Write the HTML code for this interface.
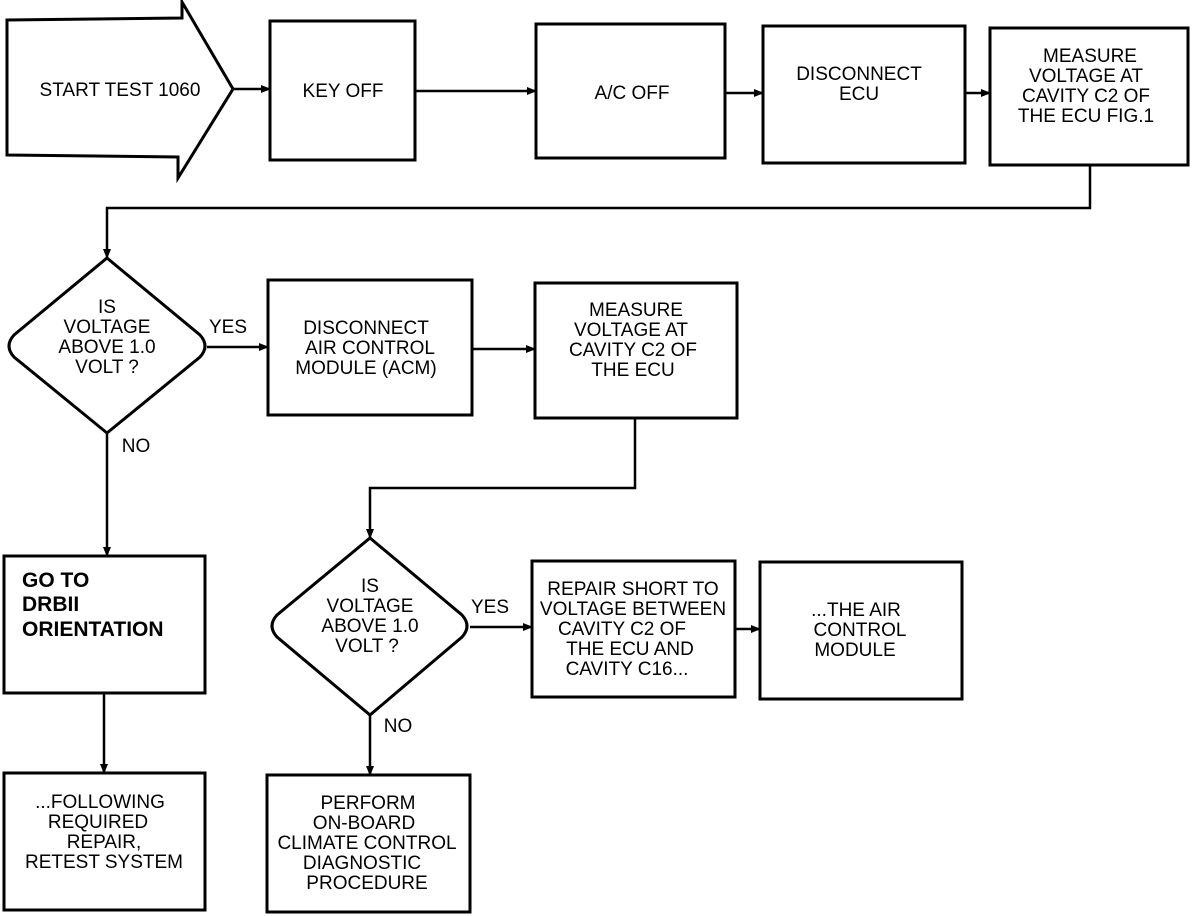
<!DOCTYPE html>
<html><head><meta charset="utf-8"><style>
html,body{margin:0;padding:0;background:#fff;}
svg{display:block;}
text{font-family:"Liberation Sans Narrow","Liberation Sans",sans-serif;font-size:19px;fill:#000;text-anchor:middle;}
.b{font-family:"Liberation Sans",sans-serif;font-weight:bold;font-size:21px;text-anchor:start;}
</style></head><body>
<svg width="1200" height="916" viewBox="0 0 1200 916" xmlns="http://www.w3.org/2000/svg">
<defs><marker id="a" markerWidth="10" markerHeight="8" refX="9" refY="4" orient="auto" markerUnits="userSpaceOnUse"><path d="M0,0 L10,4 L0,8 z" fill="#000"/></marker></defs>
<g fill="none" stroke="#000" stroke-width="3">
<polygon points="7,20 182,18 182,2 233,89 178,178 178,157 7,155"/>
<rect x="270" y="21" width="145" height="139"/>
<rect x="536" y="24" width="189" height="134"/>
<rect x="763" y="26" width="202" height="137"/>
<rect x="990" y="28" width="198" height="137"/>
<rect x="268" y="280" width="204" height="135"/>
<rect x="535" y="283" width="202" height="135"/>
<rect x="532" y="561" width="203" height="136"/>
<rect x="760" y="562" width="202" height="137"/>
<rect x="267" y="775" width="203" height="137"/>
<rect x="4" y="556" width="201" height="137"/>
<rect x="4" y="773" width="201" height="137"/>
<path d="M107,258 L200,335 Q210,346 200,357 L107,433 L14,357 Q4,346 14,335 Z"/>
<path d="M370,538 L462,615 Q472,626 462,637 L370,715 L277,637 Q267,626 277,615 Z"/>
</g>
<g fill="none" stroke="#000" stroke-width="2.5" marker-end="url(#a)">
<path d="M233,89 L270,89"/>
<path d="M415,91 L536,91"/>
<path d="M725,93 L763,93"/>
<path d="M965,93 L990,93"/>
<path d="M1090,165 L1090,208 L107,208 L107,258"/>
<path d="M207,347 L268,347"/>
<path d="M472,349 L535,349"/>
<path d="M635,418 L635,488 L370,488 L370,538"/>
<path d="M470,627 L532,627"/>
<path d="M735,629 L760,629"/>
<path d="M370,715 L370,775"/>
<path d="M107,433 L107,556"/>
<path d="M104,693 L104,773"/>
</g>
<text x="120" y="96">START TEST 1060</text>
<text x="343" y="97">KEY OFF</text>
<text x="632" y="99">A/C OFF</text>
<text x="859" y="80">DISCONNECT</text><text x="859" y="100">ECU</text>
<text x="1090" y="62">MEASURE</text><text x="1086" y="82">VOLTAGE AT</text><text x="1086" y="102">CAVITY C2 OF</text><text x="1086" y="122">THE ECU FIG.1</text>
<text x="107" y="313">IS</text><text x="107" y="333">VOLTAGE</text><text x="107" y="353">ABOVE 1.0</text><text x="107" y="373">VOLT ?</text>
<text x="228" y="333">YES</text>
<text x="136" y="452">NO</text>
<text x="366" y="334">DISCONNECT</text><text x="370" y="354">AIR CONTROL</text><text x="366" y="374">MODULE (ACM)</text>
<text x="636" y="316">MEASURE</text><text x="631" y="336">VOLTAGE AT</text><text x="633" y="356">CAVITY C2 OF</text><text x="633" y="376">THE ECU</text>
<text x="370" y="592">IS</text><text x="370" y="612">VOLTAGE</text><text x="370" y="632">ABOVE 1.0</text><text x="367" y="652">VOLT ?</text>
<text x="490" y="613">YES</text>
<text x="398" y="732">NO</text>
<text x="633" y="595">REPAIR SHORT TO</text><text x="633" y="615">VOLTAGE BETWEEN</text><text x="622" y="635">CAVITY C2 OF</text><text x="630" y="655">THE ECU AND</text><text x="627" y="675">CAVITY C16...</text>
<text x="856" y="616">...THE AIR</text><text x="860" y="636">CONTROL</text><text x="855" y="656">MODULE</text>
<text x="368" y="809">PERFORM</text><text x="364" y="829">ON-BOARD</text><text x="367" y="849">CLIMATE CONTROL</text><text x="362" y="869">DIAGNOSTIC</text><text x="367" y="889">PROCEDURE</text>
<text x="100" y="808">...FOLLOWING</text><text x="98" y="828">REQUIRED</text><text x="104" y="848">REPAIR,</text><text x="104" y="868">RETEST SYSTEM</text>
<text class="b" x="22" y="587">GO TO</text><text class="b" x="22" y="611">DRBII</text><text class="b" x="22" y="636">ORIENTATION</text>
</svg>
</body></html>
